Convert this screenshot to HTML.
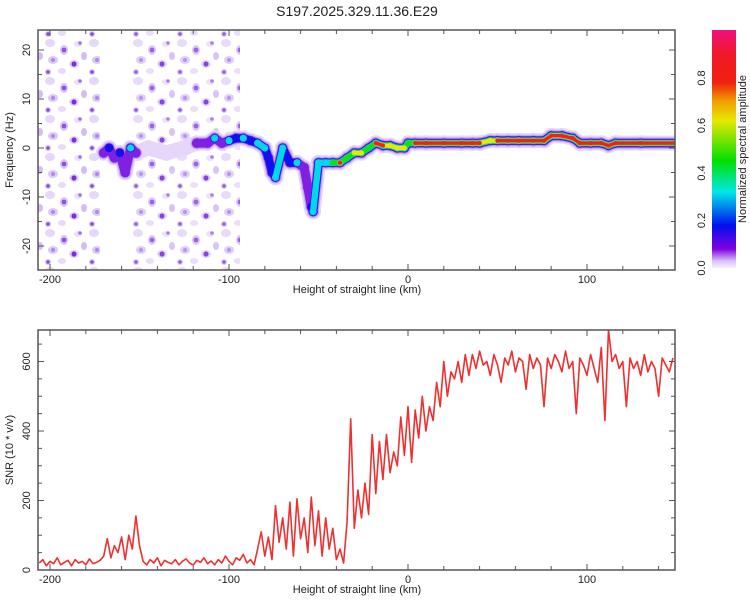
<!DOCTYPE html>
<html><head><meta charset="utf-8"><style>
body{margin:0;background:#fff;width:750px;height:600px;overflow:hidden}
svg text{font-family:"Liberation Sans",sans-serif;fill:#222}
</style></head><body>
<svg width="750" height="600" id="fig">
<defs>
<linearGradient id="cbg" x1="0" y1="0" x2="0" y2="1">
<stop offset="0" stop-color="#f01080"/><stop offset="0.1" stop-color="#f01828"/><stop offset="0.22" stop-color="#f02010"/>
<stop offset="0.3" stop-color="#f0a000"/><stop offset="0.38" stop-color="#e8e800"/><stop offset="0.55" stop-color="#00e000"/>
<stop offset="0.68" stop-color="#00e8e8"/><stop offset="0.82" stop-color="#0010f0"/><stop offset="0.92" stop-color="#8000e0"/>
<stop offset="0.97" stop-color="#d8c0f8"/><stop offset="1" stop-color="#f8f0ff"/></linearGradient>
<pattern id="noise" width="44" height="38" patternUnits="userSpaceOnUse">
<ellipse cx="6" cy="5" rx="5" ry="4" fill="#e6d8fa"/><ellipse cx="20" cy="12" rx="4" ry="5" fill="#d8c4f6"/>
<ellipse cx="34" cy="6" rx="4" ry="3" fill="#ecdffb"/><ellipse cx="9" cy="22" rx="5" ry="4" fill="#dccaf7"/>
<ellipse cx="30" cy="26" rx="5" ry="4" fill="#e4d4f9"/><ellipse cx="40" cy="18" rx="3" ry="4" fill="#d4bdf5"/>
<ellipse cx="18" cy="33" rx="4" ry="3" fill="#e8dafa"/><ellipse cx="4" cy="34" rx="3" ry="3" fill="#d8c6f6"/>
<circle cx="20" cy="12" r="2.4" fill="#9050e8"/><circle cx="9" cy="22" r="2" fill="#b088f0"/>
<circle cx="30" cy="26" r="2.6" fill="#7a30e0"/><circle cx="36" cy="5" r="1.8" fill="#a070ee"/>
<circle cx="4" cy="34" r="1.8" fill="#8c48e6"/>
</pattern>
<clipPath id="clipTop"><rect x="38" y="30" width="637" height="240"/></clipPath>
<clipPath id="clipBot"><rect x="38" y="330" width="637" height="240"/></clipPath>
</defs>
<text x="357" y="16" text-anchor="middle" font-size="14">S197.2025.329.11.36.E29</text>
<g clip-path="url(#clipTop)" id="spec">
<rect x="38" y="30" width="62" height="240" fill="url(#noise)"/>
<rect x="132" y="30" width="108" height="240" fill="url(#noise)" opacity="0.9"/>
</g>
<g clip-path="url(#clipBot)" id="snrg"></g>
<g id="axes"></g>
<rect x="712" y="30" width="24" height="238" fill="url(#cbg)"/>
<text transform="translate(746,149) rotate(-90)" text-anchor="middle" font-size="11">Normalized spectral amplitude</text>
<text transform="translate(13,150) rotate(-90)" text-anchor="middle" font-size="11">Frequency (Hz)</text>
<text transform="translate(13,450) rotate(-90)" text-anchor="middle" font-size="11">SNR (10 * v/v)</text>
<text x="357" y="293" text-anchor="middle" font-size="11">Height of straight line (km)</text>
<text x="357" y="593" text-anchor="middle" font-size="11">Height of straight line (km)</text>
</svg>
<script>
const ridgeKm=[-170,-167,-164,-161,-158,-155,-152,-145,-135,-125,-118,-112,-108,-104,-100,-96,-92,-88,-84,-80,-78,-76,-74,-70,-66,-62,-58,-56,-54,-53,-50,-46,-42,-38,-34,-30,-26,-22,-18,-14,-10,-6,-2,0,4,10,20,30,36,40,46,50,56,62,70,76,80,86,92,96,102,108,112,116,130,150];
const ridgeHz=[-1,0,-2,-1,-5,0,-1,0,-1,0,1,1,2,1,1.5,2,2,1.5,1,0,-2,-5,-6,0,-3,-3,-4,-8,-12,-13,-3,-3,-3,-3,-2,-1,-1,0,1,0.5,0.5,0,0,1,1,1,1,1,1,1,1.5,1.5,1.5,1.5,1.5,1.5,2.5,2.5,2,1,1,1,0.5,1,1,1];
const ridgeAmp=[0.12,0.25,0.15,0.28,0.18,0.3,0.12,0.04,0.04,0.04,0.1,0.15,0.3,0.15,0.32,0.2,0.35,0.25,0.3,0.4,0.2,0.22,0.32,0.45,0.25,0.32,0.15,0.1,0.25,0.4,0.3,0.4,0.6,0.9,0.6,0.7,0.8,0.6,0.85,0.9,0.7,0.8,0.8,0.6,0.9,0.95,0.95,0.9,0.9,0.85,0.75,0.85,0.9,0.9,0.9,0.9,0.88,0.95,0.85,0.9,0.9,0.88,0.85,0.9,0.95,0.95];
const snrStart=-206, snrStep=2;
const snrValues=[20,30,12,25,18,35,15,22,28,12,30,20,25,15,32,18,22,28,
40,90,35,70,50,95,30,100,60,155,70,
25,15,30,20,35,12,28,22,18,30,15,25,32,20,14,28,22,35,18,26,15,30,20,40,25,15,35,28,45,20,30,15,
60,110,40,95,30,185,80,150,60,195,40,205,90,150,50,210,70,170,40,150,60,120,
30,60,20,140,435,
120,230,150,250,160,390,220,370,260,390,280,340,300,440,330,470,310,460,380,500,400,470,430,540,470,600,500,570,550,600,540,620,560,620,580,630,590,600,560,620,590,540,610,590,630,570,610,600,520,620,580,610,590,470,610,580,620,600,570,630,580,600,450,610,590,560,620,580,540,640,430,690,600,620,580,600,470,610,580,600,560,620,570,600,580,500,610,590,570,610];
const xTicks=[-200,-100,0,100], freqTicks=[-20,-10,0,10,20], snrTicks=[0,200,400,600], cbTicks=[0,0.2,0.4,0.6,0.8];
const NS="http://www.w3.org/2000/svg";
const xs=km=>408+km*1.79;
const yf=f=>148-f*4.9;
const ys=v=>570-v*0.3475;
const ycb=v=>268-v*237.5;
function mk(tag,attrs,parent){const e=document.createElementNS(NS,tag);for(const k in attrs)e.setAttribute(k,attrs[k]);parent.appendChild(e);return e;}
const spec=document.getElementById('spec');
const layers=[[0.0,'#e6d6fa',15],[0.05,'#c4a4f2',11.5],[0.1,'#8020e0',9],[0.2,'#1010f0',7.6],[0.3,'#00d8e8',6.4],[0.5,'#10e010',5.2],[0.7,'#e8e800',4.4],[0.85,'#f02020',3.6]];
for(const [th,col,w] of layers){
  for(let i=0;i<ridgeKm.length-1;i++){
    const a=Math.min(ridgeAmp[i],ridgeAmp[i+1]);
    if(a<th)continue;
    const seg=mk('line',{x1:xs(ridgeKm[i]),y1:yf(ridgeHz[i]),x2:xs(ridgeKm[i+1]),y2:yf(ridgeHz[i+1]),stroke:col,'stroke-width':w,'stroke-linecap':'round'},spec);
    
    
  }
  for(let i=0;i<ridgeKm.length;i++){
    if(ridgeAmp[i]<th)continue;
    const c=mk('circle',{cx:xs(ridgeKm[i]),cy:yf(ridgeHz[i]),r:w/2+0.4,fill:col},spec);
    
    
  }
}
const g=document.getElementById('snrg');
let d='';
snrValues.forEach((v,i)=>{d+=(i?'L':'M')+xs(snrStart+i*snrStep).toFixed(1)+' '+ys(v).toFixed(1);});
const ln=mk('path',{d:d,fill:'none',stroke:'#ee3030','stroke-width':1.6,'stroke-linejoin':'round'},g);


const ax=document.getElementById('axes');
function frame(y0,y1,name,yTicks,yMinorStep,yfun,yMin,yMax){
  const r=mk('rect',{x:38,y:y0,width:637,height:y1-y0,fill:'none',stroke:'#555','stroke-width':1.5},ax);
  
  
  for(let k=-200;k<=140;k+=20){
    const X=xs(k);const L=(k%100===0)?6:4;
    mk('line',{x1:X,y1:y1,x2:X,y2:y1-L,stroke:'#555'},ax);
    mk('line',{x1:X,y1:y0,x2:X,y2:y0+L,stroke:'#555'},ax);
  }
  xTicks.forEach(k=>{const t=mk('text',{x:xs(k),y:y1+13,'text-anchor':'middle','font-size':11},ax);t.textContent=k;
    
    });
  for(let v=yMin;v<=yMax;v+=yMinorStep){
    const Y=yfun(v);if(Y<y0||Y>y1)continue;
    const L=yTicks.includes(v)?6:4;
    mk('line',{x1:38,y1:Y,x2:38+L,y2:Y,stroke:'#555'},ax);
    mk('line',{x1:675,y1:Y,x2:675-L,y2:Y,stroke:'#555'},ax);
  }
  yTicks.forEach(v=>{const t=mk('text',{transform:`translate(30,${yfun(v)}) rotate(-90)`,'text-anchor':'middle','font-size':11},ax);t.textContent=v;
    
    });
}
frame(30,270,'top-plot',freqTicks,5,yf,-25,25);
frame(330,570,'bottom-plot',snrTicks,50,ys,0,650);
cbTicks.forEach(v=>{
  const t=mk('text',{transform:`translate(705,${ycb(v)}) rotate(-90)`,'text-anchor':'middle','font-size':11},ax);t.textContent=v.toFixed(1);
  
  
});
</script>
</body></html>
